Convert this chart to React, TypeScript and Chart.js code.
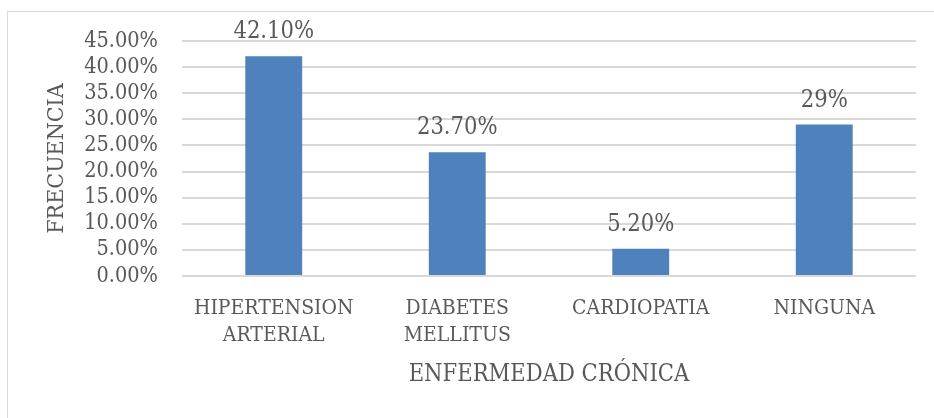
import React, { useEffect, useRef } from "react";
import { Chart, registerables } from "chart.js";
Chart.register(...registerables);

const categories: string[][] = [["HIPERTENSION", "ARTERIAL"], ["DIABETES", "MELLITUS"], ["CARDIOPATIA"], ["NINGUNA"]];
const values: number[] = [42.1, 23.7, 5.2, 29];
const valueLabels: string[] = ["42.10%", "23.70%", "5.20%", "29%"];
const yMax = 45;
const yStep = 5;
const yTitle = "FRECUENCIA";
const xTitle = "ENFERMEDAD CRÓNICA";

const FONT = "'DejaVu Serif Condensed', 'DejaVu Serif', serif";
const TEXT = "#595959";

export default function App() {
  const ref = useRef<HTMLCanvasElement>(null);
  useEffect(() => {
    const dl = {
      id: "dl",
      afterDatasetsDraw(chart: any) {
        const ctx = chart.ctx;
        const meta = chart.getDatasetMeta(0);
        ctx.save();
        ctx.font = `23.5px ${FONT}`;
        ctx.fillStyle = TEXT;
        ctx.textAlign = "center";
        ctx.textBaseline = "middle";
        meta.data.forEach((bar: any, i: number) => ctx.fillText(valueLabels[i], bar.x, bar.y - 24));
        ctx.restore();
      },
    };
    const chart = new Chart(ref.current!, {
      type: "bar",
      data: {
        labels: categories,
        datasets: [{ data: values, backgroundColor: "#4f81bd", categoryPercentage: 1, barPercentage: 0.31 }],
      },
      options: {
        animation: false,
        responsive: false,
        maintainAspectRatio: false,
        layout: { padding: { left: 0, right: 18, top: 41, bottom: 0 } },
        plugins: { legend: { display: false }, tooltip: { enabled: false } },
        scales: {
          x: {
            grid: { display: false },
            border: { display: false },
            ticks: { color: TEXT, font: { family: FONT, size: 21, lineHeight: 1.24 }, padding: 12, maxRotation: 0, autoSkip: false },
            title: { display: true, text: xTitle, color: TEXT, font: { family: FONT, size: 23.5, lineHeight: 1.2 }, padding: { top: 0, bottom: 29 } },
            afterFit: (s: any) => { s.height = 418 - 276; },
          },
          y: {
            min: 0,
            max: yMax,
            grid: { color: "#d9d9d9", lineWidth: 2, drawTicks: false },
            border: { display: false },
            ticks: { stepSize: yStep, autoSkip: false, color: TEXT, font: { family: FONT, size: 21.5, lineHeight: 1.2 }, padding: 24, callback: (v: any) => Number(v).toFixed(2) + "%" },
            title: { display: true, text: yTitle, color: TEXT, font: { family: FONT, size: 23, lineHeight: 1.2 }, padding: { top: 43, bottom: 0 } },
            afterFit: (s: any) => { s.width = 182; },
          },
        },
      },
      plugins: [dl],
    });
    return () => chart.destroy();
  }, []);
  return (
    <div style={{ position: "fixed", left: 0, top: 0, width: 934, height: 418, background: "#fff", overflow: "hidden" }}>
      <div style={{ position: "absolute", left: 7, top: 11, width: 1000, height: 600, border: "1px solid #d9d9d9", boxSizing: "border-box" }} />
      <canvas ref={ref} width={934} height={418} style={{ position: "absolute", left: 0, top: 0, width: 934, height: 418 }} />
    </div>
  );
}
